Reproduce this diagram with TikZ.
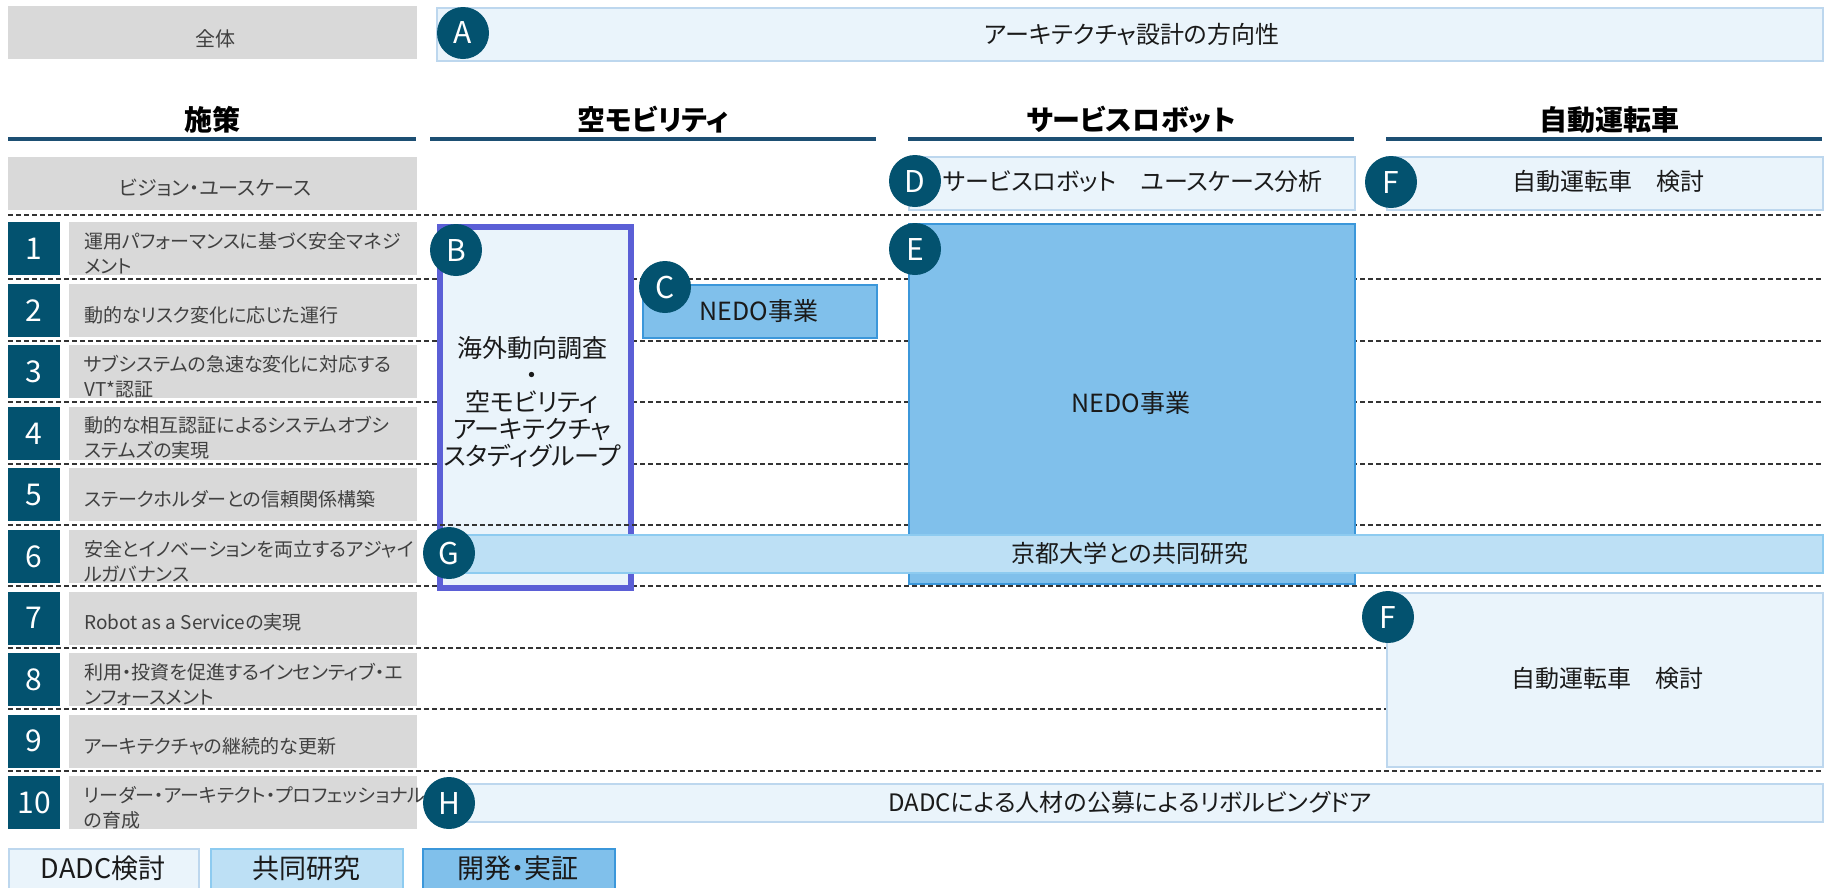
\documentclass[tikz,border=0pt]{standalone}
\usepackage{fontspec}
\setmainfont{Noto Sans CJK JP}[RawFeature={+palt}]
\definecolor{teal1}{HTML}{03526F}
\definecolor{navy1}{HTML}{1D4F73}
\definecolor{grayb}{HTML}{D9D9D9}
\definecolor{lbA}{HTML}{EAF4FB}
\definecolor{lbAd}{HTML}{BDD7EE}
\definecolor{lbB}{HTML}{BDE0F5}
\definecolor{lbBd}{HTML}{8DCBF0}
\definecolor{lbC}{HTML}{80C0EB}
\definecolor{lbCd}{HTML}{3B97DA}
\definecolor{purp}{HTML}{5B5FD6}
\definecolor{txt}{HTML}{1A1A1A}
\definecolor{txtg}{HTML}{404040}
\definecolor{dashc}{HTML}{333333}
\newcommand{\myfs}[2]{\fontsize{#1}{#2}\selectfont}
\tikzset{
  circ/.style={circle, fill=teal1, minimum size=52, inner sep=0, text=white, font=\myfs{30}{30}},
  numbox/.style={rectangle, fill=teal1, minimum width=52, minimum height=53, inner sep=0, anchor=north west, text=white, font=\myfs{30}{30}},
  graybox/.style={rectangle, fill=grayb, inner sep=0, anchor=north west},
  rowtxt/.style={anchor=west, align=left, inner sep=0, text=txtg, font=\myfs{19}{25}},
  boxA/.style={rectangle, fill=lbA, draw=lbAd, line width=1.5, inner sep=0, anchor=north west},
  boxB/.style={rectangle, fill=lbB, draw=lbBd, line width=1.5, inner sep=0, anchor=north west},
  boxC/.style={rectangle, fill=lbC, draw=lbCd, line width=1.5, inner sep=0, anchor=north west},
  bigtxt/.style={inner sep=0, text=txt, font=\myfs{24}{27}, align=center},
  head/.style={inner sep=0, text=black, font=\bfseries\myfs{28}{28}},
  uline/.style={navy1, line width=4},
  dline/.style={dashc, line width=1.3, dash pattern=on 5 off 3},
}
\begin{document}
\begin{tikzpicture}[x=1pt, y=-1pt]
\clip (0,0) rectangle (1826,887);
\fill[white] (0,0) rectangle (1826,887);

% dashed row separators
\foreach \yy in {215,279,341,402,464,586,648,709,771}
  \draw[dline] (8,\yy) -- (1822,\yy);

% top row
\node[graybox, minimum width=409, minimum height=53] (zentai) at (8,6) {};
\node[inner sep=0, text=txtg, font=\myfs{20}{20}] (zentaiT) at (215,39) {全体};
\node[boxA, minimum width=1386, minimum height=53] (abox) at (436,7) {};
\node[bigtxt] (aT) at (1132,34) {アーキテクチャ設計の方向性};

% headers
\node[head] (h1) at (212,120) {施策};
\node[head] (h2) at (653,120) {空モビリティ};
\node[head] (h3) at (1131,120) {サービスロボット};
\node[head] (h4) at (1609,120) {自動運転車};
\draw[uline] (8,139) -- (416,139);
\draw[uline] (430,139) -- (876,139);
\draw[uline] (908,139) -- (1354,139);
\draw[uline] (1386,139) -- (1822,139);

% vision row
\node[graybox, minimum width=409, minimum height=53] (vision) at (8,157) {};
\node[inner sep=0, text=txtg, font=\myfs{20}{20}] (visionT) at (215,188) {ビジョン・ユースケース};
\node[boxA, minimum width=446, minimum height=53] (dbox) at (908,156) {};
\node[bigtxt] (dT) at (1133,181) {サービスロボット　ユースケース分析};
\node[boxA, minimum width=436, minimum height=53] (fbox) at (1386,156) {};
\node[bigtxt] (fT) at (1608,181) {自動運転車　検討};

% numbered rows
\foreach \k/\t in {
  1/{運用パフォーマンスに基づく安全マネジ\\メント},
  2/{動的なリスク変化に応じた運行},
  3/{サブシステムの急速な変化に対応する\\VT*認証},
  4/{動的な相互認証によるシステムオブシ\\ステムズの実現},
  5/{ステークホルダーとの信頼関係構築},
  6/{安全とイノベーションを両立するアジャイ\\ルガバナンス},
  7/{Robot as a Serviceの実現},
  8/{利用・投資を促進するインセンティブ・エ\\ンフォースメント},
  9/{アーキテクチャの継続的な更新},
  10/{リーダー・アーキテクト・プロフェッショナル\\の育成}} {
  \pgfmathsetmacro{\tp}{222+(\k-1)*61.55}
  \node[numbox] (n\k) at (8,\tp) {\k};
  \node[graybox, minimum width=348, minimum height=53] (r\k) at (69,\tp) {};
  \node[rowtxt] (rt\k) at (84,\tp+31.5) {\t};
}

% B : 空モビリティ study
\node[rectangle, fill=lbA, draw=purp, line width=6, inner sep=0, anchor=north west,
      minimum width=191, minimum height=361] (bbox) at (436.5,223.5) {};
\node[bigtxt, font=\myfs{25}{27}] (bT) at (532,402) {海外動向調査\\・\\空モビリティ\\アーキテクチャ\\スタディグループ};
\draw[dline] (8,525) -- (1822,525);

% C, E
\node[boxC, minimum width=234, minimum height=53] (cbox) at (642,284) {};
\node[bigtxt, font=\myfs{25}{25}] (cT) at (759,311) {NEDO事業};
\node[boxC, minimum width=446, minimum height=360] (ebox) at (908,223) {};
\node[bigtxt, font=\myfs{25}{25}] (eT) at (1131,403) {NEDO事業};

% F (lower)
\node[boxA, minimum width=436, minimum height=174] (f2box) at (1386,592) {};
\node[bigtxt] (f2T) at (1607,678) {自動運転車　検討};

% G bar
\node[boxB, minimum width=1377, minimum height=38] (gbar) at (445,534) {};
\node[bigtxt] (gT) at (1130,553) {京都大学との共同研究};

% H bar
\node[boxA, minimum width=1377, minimum height=38] (hbar) at (445,783) {};
\node[bigtxt] (hT) at (1130,802) {DADCによる人材の公募によるリボルビングドア};

% circles
\node[circ] (cA) at (463,33) {A};
\node[circ] (cB) at (456,250) {B};
\node[circ] (cC) at (665,287) {C};
\node[circ] (cD) at (915,181) {D};
\node[circ] (cE) at (915,249) {E};
\node[circ] (cF) at (1391,182) {F};
\node[circ] (cF2) at (1388,617) {F};
\node[circ] (cG) at (449,553) {G};
\node[circ] (cH) at (449,803) {H};

% legend
\node[boxA, minimum width=190, minimum height=50] (lg1) at (8,848) {};
\node[bigtxt, font=\myfs{27}{27}] (lg1T) at (103,868) {DADC検討};
\node[boxB, minimum width=192, minimum height=50] (lg2) at (210,848) {};
\node[bigtxt, font=\myfs{27}{27}] (lg2T) at (306,868) {共同研究};
\node[boxC, minimum width=192, minimum height=50] (lg3) at (422,848) {};
\node[bigtxt, font=\myfs{27}{27}] (lg3T) at (518,868) {開発・実証};
\end{tikzpicture}
\end{document}
